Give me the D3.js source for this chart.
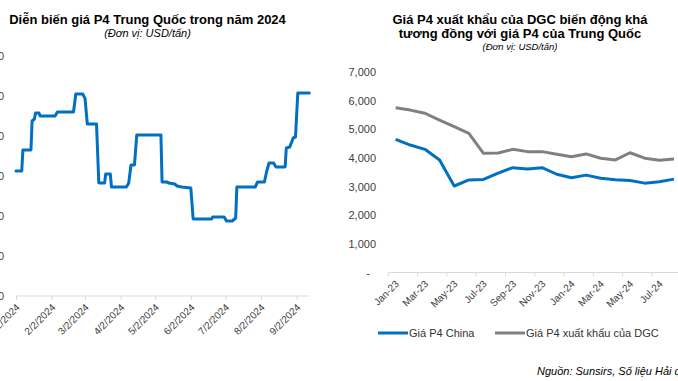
<!DOCTYPE html>
<html>
<head>
<meta charset="utf-8">
<script src="https://cdn.jsdelivr.net/npm/d3@7"></script>
<style>
  html, body { margin: 0; padding: 0; background: #fff; }
  svg { display: block; font-family: "Liberation Sans", Arial, sans-serif; }
</style>
</head>
<body>
<svg id="chart" width="678" height="381"></svg>
<script>
// ---- left chart: China P4 price, 2024 (daily, step-wise) ----
const leftDates = [
  "2024-01-02","2024-01-07","2024-01-08","2024-01-15","2024-01-16","2024-01-18","2024-01-19","2024-01-22",
  "2024-01-23","2024-02-05","2024-02-07","2024-02-21","2024-02-23","2024-02-29","2024-03-02","2024-03-04",
  "2024-03-12","2024-03-14","2024-03-19","2024-03-20","2024-03-24","2024-03-25","2024-04-07","2024-04-09",
  "2024-04-11","2024-04-14","2024-04-16","2024-05-07","2024-05-08","2024-05-12","2024-05-14","2024-05-19",
  "2024-05-21","2024-05-25","2024-06-02","2024-06-04","2024-06-20","2024-06-21","2024-07-01","2024-07-03",
  "2024-07-08","2024-07-11","2024-07-12","2024-07-28","2024-07-30","2024-08-05","2024-08-07","2024-08-09",
  "2024-08-13","2024-08-15","2024-08-23","2024-08-24","2024-08-27","2024-08-30","2024-09-01","2024-09-03",
  "2024-09-13"
];
const leftPrices = [
  3225,3225,3330,3330,3475,3485,3515,3515,
  3500,3500,3520,3520,3610,3610,3588,3460,
  3460,3165,3165,3210,3210,3145,3145,3165,
  3255,3255,3405,3405,3170,3170,3165,3160,
  3150,3145,3140,2985,2985,2995,2995,2975,
  2975,2990,3145,3145,3170,3170,3225,3265,
  3265,3245,3245,3340,3345,3390,3395,3615,
  3615
];
const leftYTicks = [2600, 2800, 3000, 3200, 3400, 3600, 3800];
const leftXTicks = ["2024-01-02","2024-02-02","2024-03-02","2024-04-02","2024-05-02",
                    "2024-06-02","2024-07-02","2024-08-02","2024-09-02"];

// ---- right chart: monthly P4 prices ----
const months = ["Jan-23","Feb-23","Mar-23","Apr-23","May-23","Jun-23","Jul-23","Aug-23","Sep-23","Oct-23",
                "Nov-23","Dec-23","Jan-24","Feb-24","Mar-24","Apr-24","May-24","Jun-24","Jul-24","Aug-24"];
const chinaP4 = [4650,4450,4300,3930,3020,3230,3250,3470,3660,3610,
                 3660,3430,3310,3400,3290,3240,3210,3120,3170,3260];
const dgcP4 = [5750,5670,5560,5320,5090,4860,4160,4170,4300,4220,
               4220,4130,4040,4140,3990,3930,4180,3990,3920,3960];
const rightYTicks = [0, 1000, 2000, 3000, 4000, 5000, 6000, 7000];

const BLUE = "#0070C0", GREY = "#808080", AXIS = "#D9D9D9", LABEL = "#404040";
const parse = d3.utcParse("%Y-%m-%d");
const svg = d3.select("#chart");

// ================= left chart =================
const xL = d3.scaleUtc()
  .domain([parse("2024-01-02"), parse("2024-09-13")])
  .range([16, 309.3]);
const yL = d3.scaleLinear().domain([2600, 3800]).range([296, 56]);

svg.append("text").attr("x", 147.5).attr("y", 24).attr("text-anchor", "middle")
  .attr("font-size", 13).attr("font-weight", 700).attr("fill", "#000")
  .text("Diễn biến giá P4 Trung Quốc trong năm 2024");
svg.append("text").attr("x", 147.5).attr("y", 37).attr("text-anchor", "middle")
  .attr("font-size", 11).attr("font-style", "italic").attr("fill", "#000")
  .text("(Đơn vị: USD/tấn)");

// y axis (the picture is cropped, so only the last digit shows)
svg.append("g")
  .attr("transform", "translate(4,0)")
  .call(d3.axisLeft(yL).tickValues(leftYTicks).tickSize(0).tickPadding(0).tickFormat(d3.format(",")))
  .call(g => g.select(".domain").remove())
  .call(g => g.selectAll("text").attr("font-size", 11).attr("fill", LABEL).attr("font-family", null));

// x axis
svg.append("g")
  .attr("transform", `translate(0,${yL(2600)})`)
  .call(d3.axisBottom(xL).tickValues(leftXTicks.map(parse)).tickSize(4)
    .tickFormat(d3.utcFormat("%-m/%-d/%Y")))
  .call(g => g.select(".domain").attr("stroke", AXIS).attr("d", `M${xL.range()[0]},0H${xL.range()[1]}`))
  .call(g => g.selectAll(".tick line").attr("stroke", AXIS))
  .call(g => g.selectAll("text")
    .attr("font-size", 10).attr("fill", LABEL).attr("font-family", null)
    .attr("y", 0).attr("dy", null)
    .attr("text-anchor", "end")
    .attr("transform", "translate(4,12) rotate(-45)"));

const lineL = d3.line()
  .x((d, i) => xL(parse(leftDates[i])))
  .y(d => yL(d));
svg.append("path")
  .attr("fill", "none").attr("stroke", BLUE).attr("stroke-width", 3)
  .attr("stroke-linejoin", "round").attr("stroke-linecap", "round")
  .attr("d", lineL(leftPrices));

// ================= right chart =================
const xR = d3.scaleBand().domain(months).range([388.3, 388.3 + months.length * 14.65]).padding(0);
const cx = m => xR(m) + xR.bandwidth() / 2;
const yR = d3.scaleLinear().domain([0, 7000]).range([272.5, 72]);

const rt = svg.append("text").attr("text-anchor", "middle").attr("font-size", 13)
  .attr("font-weight", 700).attr("fill", "#000");
rt.append("tspan").attr("x", 520).attr("y", 24).text("Giá P4 xuất khẩu của DGC biến động khá");
rt.append("tspan").attr("x", 520).attr("y", 38).text("tương đồng với giá P4 của Trung Quốc");
svg.append("text").attr("x", 520).attr("y", 50).attr("text-anchor", "middle")
  .attr("font-size", 9.5).attr("font-style", "italic").attr("fill", "#000")
  .text("(Đơn vị: USD/tấn)");

svg.append("g")
  .attr("transform", "translate(376,0)")
  .call(d3.axisLeft(yR).tickValues(rightYTicks).tickSize(0).tickPadding(0)
    .tickFormat(d => d === 0 ? "-" : d3.format(",")(d)))
  .call(g => g.select(".domain").remove())
  .call(g => g.selectAll("text").attr("font-size", 11).attr("fill", LABEL).attr("font-family", null))
  .call(g => g.selectAll(".tick").filter(d => d === 0).select("text").attr("dx", -6));

const xAxisR = svg.append("g").attr("transform", `translate(0,${yR(0)})`);
xAxisR.call(d3.axisBottom(xR).tickValues(months.filter((m, i) => i % 2 === 0)).tickSize(0))
  .call(g => g.select(".domain").attr("stroke", AXIS).attr("d", `M${xR.range()[0]},0H${xR.range()[1]}`))
  .call(g => g.selectAll("text")
    .attr("font-size", 10).attr("fill", LABEL).attr("font-family", null)
    .attr("y", 0).attr("dy", null)
    .attr("text-anchor", "end")
    .attr("transform", "translate(4,12) rotate(-45)"));
// tick marks sit on category boundaries, every second month
xAxisR.append("g").selectAll("line")
  .data(months.filter((m, i) => i % 2 === 0))
  .join("line")
  .attr("x1", m => xR(m)).attr("x2", m => xR(m))
  .attr("y1", 0).attr("y2", 4)
  .attr("stroke", AXIS);

const lineR = d3.line().x((d, i) => cx(months[i])).y(d => yR(d));
svg.append("path").attr("fill", "none").attr("stroke", GREY).attr("stroke-width", 3)
  .attr("stroke-linejoin", "round").attr("d", lineR(dgcP4));
svg.append("path").attr("fill", "none").attr("stroke", BLUE).attr("stroke-width", 3)
  .attr("stroke-linejoin", "round").attr("d", lineR(chinaP4));

// legend
const legend = [
  { name: "Giá P4 China", color: BLUE, x: 378 },
  { name: "Giá P4 xuất khẩu của DGC", color: GREY, x: 495 }
];
const lg = svg.append("g").selectAll("g").data(legend).join("g")
  .attr("transform", d => `translate(${d.x},333)`);
lg.append("line").attr("x1", 0).attr("x2", 30).attr("stroke", d => d.color).attr("stroke-width", 3);
lg.append("text").attr("x", 31).attr("y", 4).attr("font-size", 11).attr("fill", "#333")
  .text(d => d.name);

svg.append("text").attr("x", 537).attr("y", 375).attr("font-size", 11)
  .attr("font-style", "italic").attr("fill", "#000")
  .text("Nguồn: Sunsirs, Số liệu Hải quan");
</script>
</body>
</html>
